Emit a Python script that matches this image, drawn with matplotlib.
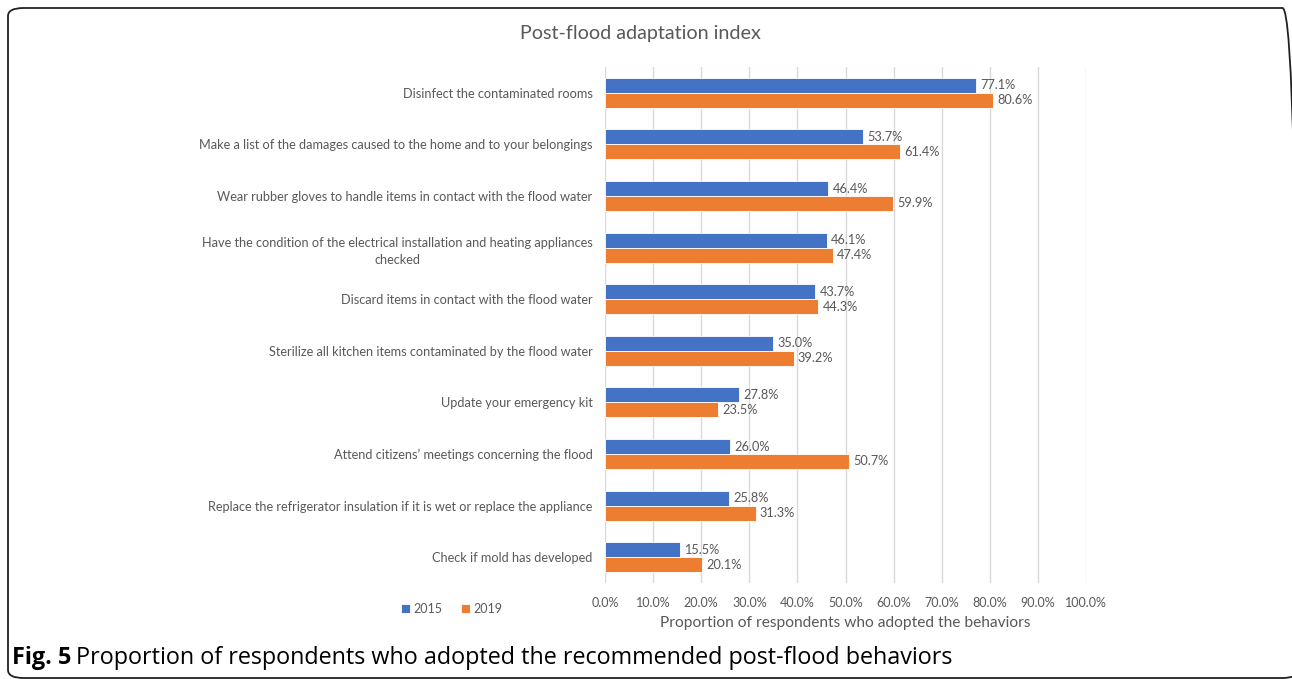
import matplotlib as mpl

mpl.use('Agg')

import matplotlib.pyplot as plt
import numpy as np
from matplotlib.patches import FancyBboxPatch

behaviors = [
    "Disinfect the contaminated rooms",
    "Make a list of the damages caused to the home and to your belongings",
    "Wear rubber gloves to handle items in contact with the flood water",
    "Have the condition of the electrical installation and heating appliances\nchecked",
    "Discard items in contact with the flood water",
    "Sterilize all kitchen items contaminated by the flood water",
    "Update your emergency kit",
    "Attend citizens\u2019 meetings concerning the flood",
    "Replace the refrigerator insulation if it is wet or replace the appliance",
    "Check if mold has developed",
]
pct_2015 = [77.1, 53.7, 46.4, 46.1, 43.7, 35.0, 27.8, 26.0, 25.8, 15.5]
pct_2019 = [80.6, 61.4, 59.9, 47.4, 44.3, 39.2, 23.5, 50.7, 31.3, 20.1]
ticks = list(range(0, 101, 10))

BLUE = '#4472C4'
ORANGE = '#ED7D31'
GREY = '#595959'


def main():
    plt.rcParams['font.family'] = ['Lato', 'DejaVu Sans']
    fig = plt.figure(figsize=(12.92, 6.79), dpi=100)

    # rounded frame around the chart
    frame = FancyBboxPatch((8 / 1292, 1 / 679), 1290 / 1292, 670 / 679,
                           boxstyle='round,pad=0,rounding_size=0.012',
                           transform=fig.transFigure, fill=False,
                           edgecolor='#222222', linewidth=1.3)
    fig.patches.append(frame)

    ax = fig.add_axes([605 / 1292, 1 - 583 / 679, 481 / 1292, 516 / 679])

    y = np.arange(len(behaviors))
    h = 0.29
    ax.barh(y - h / 2, pct_2015, height=h, color=BLUE, edgecolor='white',
            linewidth=0.6, label='2015')
    ax.barh(y + h / 2, pct_2019, height=h, color=ORANGE, edgecolor='white',
            linewidth=0.6, label='2019')

    for i in range(len(behaviors)):
        ax.text(pct_2015[i] + 0.9, y[i] - h / 2, "{0:.1f}%".format(pct_2015[i]),
                va='center', ha='left', fontsize=9.2, color=GREY)
        ax.text(pct_2019[i] + 0.9, y[i] + h / 2, "{0:.1f}%".format(pct_2019[i]),
                va='center', ha='left', fontsize=9.2, color=GREY)

    ax.set_xlim(0, 100)
    ax.set_ylim(len(behaviors) - 0.5, -0.5)
    ax.set_xticks(ticks)
    ax.set_xticklabels(["{0:.1f}%".format(t) for t in ticks], fontsize=9,
                       color=GREY)
    ax.set_yticks(y)
    ax.set_yticklabels(behaviors, fontsize=9.2, color=GREY, linespacing=1.5)
    for lab in ax.get_yticklabels():
        lab.set_multialignment('center')
    ax.tick_params(axis='both', length=0)
    ax.tick_params(axis='y', pad=9)
    ax.tick_params(axis='x', pad=10)
    ax.grid(axis='x', color='#D9D9D9', linewidth=1)
    ax.set_axisbelow(True)
    for s in ax.spines.values():
        s.set_visible(False)
    ax.set_xlabel("Proportion of respondents who adopted the behaviors",
                  fontsize=11.2, color=GREY, labelpad=5)

    fig.text(640 / 1292, 1 - 33 / 679, "Post-flood adaptation index",
             ha='center', va='center', fontsize=14.2, color=GREY)

    handles, labels = ax.get_legend_handles_labels()
    fig.legend(handles, labels, loc='center', ncol=2, frameon=False,
               bbox_to_anchor=(452 / 1292, 1 - 609 / 679), fontsize=9,
               handlelength=0.7, handleheight=0.7, handletextpad=0.3,
               columnspacing=1.5, labelcolor=GREY)

    # caption: bold figure number followed by plain text
    cap_y = 1 - 658 / 679
    fig_no = fig.text(12 / 1292, cap_y, "Fig. 5", fontweight='bold',
                      fontsize=16.8, va='center', ha='left',
                      family='Open Sans')
    fig.text(0, 0,
             "Proportion of respondents who adopted the recommended post-flood behaviors",
             fontsize=16.8, va='center', ha='left', family='Open Sans')
    fig.canvas.draw()
    bb = fig_no.get_window_extent().transformed(fig.transFigure.inverted())
    fig.texts[-1].set_position((bb.x1 + 5 / 1292, cap_y))

    fig.savefig('out.png', dpi=100)


if __name__ == '__main__':
    plt.close('all')
    main()
